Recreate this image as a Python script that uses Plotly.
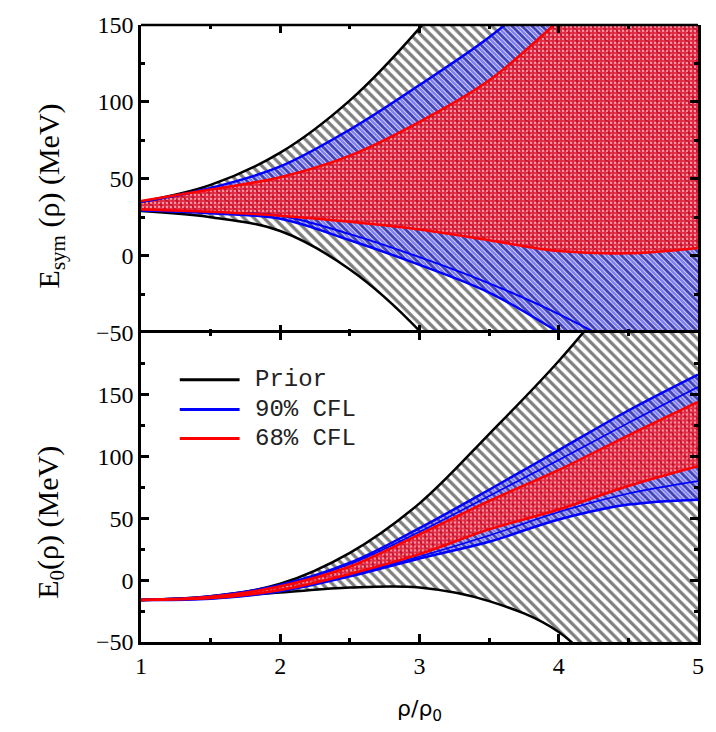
import plotly.graph_objects as go
from plotly.subplots import make_subplots

# density grid, in units of saturation density
rho = [1.0, 1.5, 2.0, 2.5, 3.0, 3.5, 4.0, 4.5, 5.0]

# symmetry energy E_sym(rho) bands, MeV
esym_prior_hi = [35, 46, 67, 101, 148, 205, 270, 345, 430]
esym_prior_lo = [29, 25, 16, -9, -49, -105, -170, -245, -330]
esym_90_hi = [35, 44, 58, 82, 111, 142, 180, 222, 270]
esym_90_lo = [29.5, 27.5, 24, 10, -6, -24, -50, -80, -115]
esym_90_mid = [29.5, 28, 26, 14, -1, -18, -38, -62, -90]
esym_68_hi = [35.5, 43, 51, 65, 87, 114, 153, 195, 240]
esym_68_lo = [30, 28.5, 26, 22, 17, 10, 3, 1.5, 5]

# symmetric-matter energy E_0(rho) bands, MeV
e0_prior_hi = [-16, -13, -3, 22, 62, 118, 177, 245, 320]
e0_prior_lo = [-16, -14, -10, -6, -6, -17, -42, -100, -170]
e0_90_hi = [-16, -13, -4, 14, 42, 73, 105, 137, 166]
e0_90_lo = [-16, -15, -9, 3, 17.5, 31, 49, 61, 65]
e0_90_mid_hi = [-16, -13, -4, 13, 39, 68, 97, 127, 156]
e0_90_mid_lo = [-16, -15, -9, 4, 19, 36, 55, 70, 80]
e0_68_hi = [-16, -13.5, -5, 11, 37, 64, 89, 117, 144]
e0_68_lo = [-16, -14.5, -8, 5, 21, 41, 57, 76, 92]

legend_labels = ["Prior", "90% CFL", "68% CFL"]
BLACK, BLUE, RED = "#000000", "#0000ff", "#ff0000"
CLEAR = "rgba(0,0,0,0)"

fig = make_subplots(rows=2, cols=1, shared_xaxes=True, vertical_spacing=0,
                    row_heights=[313, 315])

# hatch tiles: 10 px for the prior, 5 px for the 90% band (interleaved lines)
bands = {
    "prior": dict(fillcolor=CLEAR,
                  fillpattern=dict(shape="\\", fgcolor=BLACK, size=7.0711,
                                   solidity=0.46, bgcolor=CLEAR)),
    "90": dict(fillcolor=CLEAR,
               fillpattern=dict(shape="\\", fgcolor=BLUE, size=3.5355,
                                solidity=0.75, bgcolor=CLEAR)),
    "68": dict(fillcolor="rgba(255,0,0,0.72)",
               fillpattern=dict(shape=".", fgcolor="white", fgopacity=0.55,
                                size=4, solidity=0.25, fillmode="overlay")),
}


def band(lo, hi, kind, row):
    fig.add_trace(go.Scatter(x=rho, y=lo, mode="lines", line=dict(width=0, shape="spline"),
                             showlegend=False, hoverinfo="skip"), row=row, col=1)
    fig.add_trace(go.Scatter(x=rho, y=hi, mode="lines", line=dict(width=0, shape="spline"),
                             fill="tonexty", showlegend=False, hoverinfo="skip",
                             **bands[kind]), row=row, col=1)


def edge(y, color, row, width=2.5):
    fig.add_trace(go.Scatter(x=rho, y=y, mode="lines",
                             line=dict(color=color, width=width, shape="spline"),
                             showlegend=False, hoverinfo="skip"), row=row, col=1)


# upper panel: E_sym
band(esym_prior_lo, esym_prior_hi, "prior", 1)
band(esym_90_lo, esym_90_hi, "90", 1)
band(esym_68_lo, esym_68_hi, "68", 1)
# lower panel: E_0
band(e0_prior_lo, e0_prior_hi, "prior", 2)
band(e0_90_lo, e0_90_hi, "90", 2)
band(e0_68_lo, e0_68_hi, "68", 2)

for y in (esym_prior_hi, esym_prior_lo):
    edge(y, BLACK, 1)
for y in (esym_90_hi, esym_90_lo):
    edge(y, BLUE, 1)
edge(esym_90_mid, BLUE, 1, 2)
for y in (esym_68_hi, esym_68_lo):
    edge(y, RED, 1)

for y in (e0_prior_hi, e0_prior_lo):
    edge(y, BLACK, 2)
for y in (e0_90_hi, e0_90_lo):
    edge(y, BLUE, 2)
for y in (e0_90_mid_hi, e0_90_mid_lo):
    edge(y, BLUE, 2, 1.6)
for y in (e0_68_hi, e0_68_lo):
    edge(y, RED, 2)

tick_font = dict(family="Liberation Serif", size=24, color="black")
axis_common = dict(linecolor="black", linewidth=2.5, mirror="allticks",
                   ticks="inside", ticklen=8, tickwidth=2.5, tickcolor="black",
                   showgrid=False, zeroline=False, tickfont=tick_font)
minor_common = dict(ticks="inside", ticklen=4, tickwidth=2.5, tickcolor="black",
                    showgrid=False)

fig.update_xaxes(range=[1, 5], tickvals=[1, 2, 3, 4, 5],
                 minor=dict(dtick=0.5, tick0=1, **minor_common), **axis_common)
# the lower panel's frame supplies the shared middle line
fig.update_xaxes(showticklabels=False, showline=False, row=1, col=1)
fig.update_xaxes(showline=True, row=2, col=1)
fig.update_yaxes(minor=dict(dtick=25, tick0=0, **minor_common), showline=True,
                 **axis_common)
fig.update_yaxes(range=[-50, 150], tickvals=[-50, 0, 50, 100, 150], row=1, col=1)
fig.update_yaxes(range=[-50, 200], tickvals=[-50, 0, 50, 100, 150], row=2, col=1)

title_font = dict(family="Liberation Serif", size=30, color="black")
annotations = [
    dict(text="E<sub>sym</sub> (ρ) (MeV)", x=-0.1625, y=0.723, xref="paper", yref="paper",
         xanchor="center", yanchor="middle", textangle=-90, showarrow=False,
         font=title_font),
    dict(text="E<sub>0</sub>(ρ) (MeV)", x=-0.1625, y=0.194, xref="paper", yref="paper",
         xanchor="center", yanchor="middle", textangle=-90, showarrow=False,
         font=title_font),
    dict(text="ρ/ρ<sub>0</sub>", x=0.5, y=-0.111, xref="paper", yref="paper",
         xanchor="center", yanchor="middle", showarrow=False,
         font=dict(family="DejaVu Sans", size=22, color="black")),
]

# top edge of the upper frame
shapes = [dict(type="line", xref="paper", yref="paper", x0=0, x1=1, y0=1, y1=1,
               line=dict(color="black", width=2.5))]

# legend drawn as short line samples with labels
leg_colors = [BLACK, BLUE, RED]
leg_y = [0.425, 0.377, 0.330]
for label, color, yy in zip(legend_labels, leg_colors, leg_y):
    shapes.append(dict(type="line", xref="paper", yref="paper", x0=0.0696, x1=0.177,
                       y0=yy, y1=yy, line=dict(color=color, width=3)))
    annotations.append(dict(text=label, x=0.2018, y=yy, xref="paper", yref="paper",
                            xanchor="left", yanchor="middle", showarrow=False,
                            font=dict(family="Liberation Mono", size=24, color="#222")))

fig.update_layout(width=716, height=732, margin=dict(l=141, r=15, t=14, b=90),
                  plot_bgcolor="white", paper_bgcolor="white", showlegend=False,
                  annotations=annotations, shapes=shapes)

fig.write_html("out.html")
